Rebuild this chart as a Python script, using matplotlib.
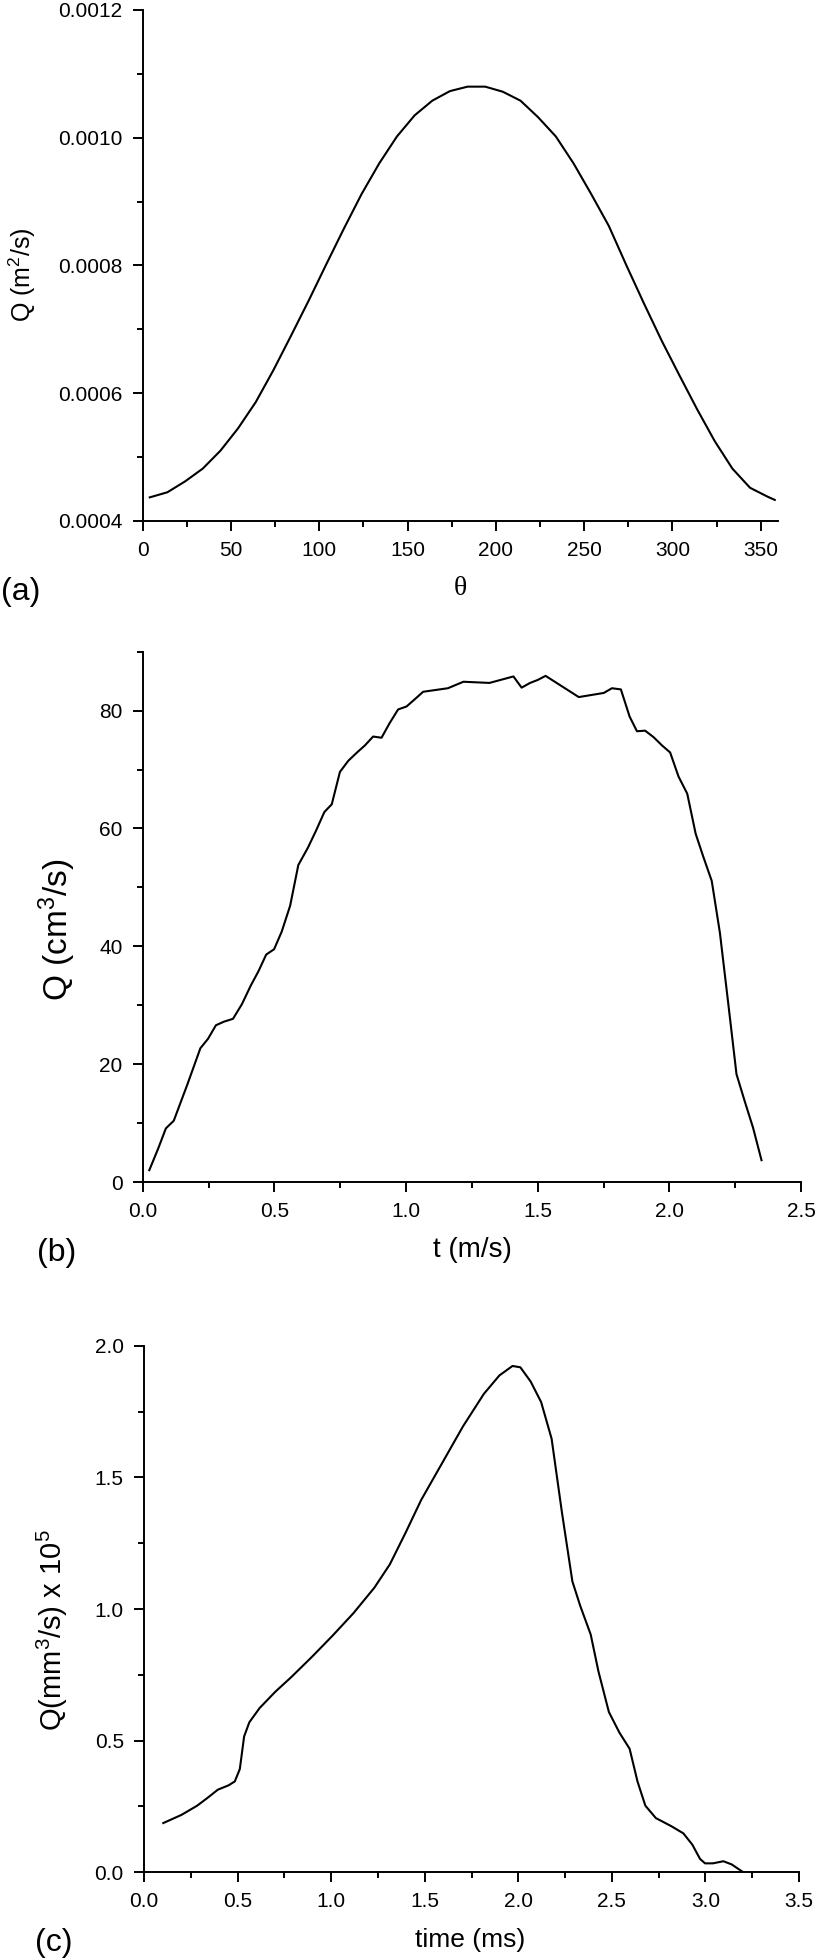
import matplotlib
matplotlib.use('Agg')
import matplotlib.pyplot as plt
from matplotlib.ticker import MultipleLocator, FormatStrFormatter

plt.rcParams['font.family'] = ['Liberation Sans', 'DejaVu Sans']
plt.rcParams['mathtext.fontset'] = 'custom'
plt.rcParams['mathtext.rm'] = 'Liberation Sans'
plt.rcParams['mathtext.it'] = 'Liberation Sans:italic'

# (a) flow rate vs angle
theta = [4, 14, 24, 34, 44, 54, 64, 74, 84, 94, 104, 114, 124, 134, 144, 154,
         164, 174, 184, 194, 204, 214, 224, 234, 244, 254, 264, 274, 284, 294,
         304, 314, 324, 334, 344, 354, 358]
q_a = [0.000437, 0.000445, 0.000462, 0.000482, 0.000510, 0.000545, 0.000586,
       0.000636, 0.000690, 0.000745, 0.000802, 0.000858, 0.000912, 0.000960,
       0.001002, 0.001035, 0.001058, 0.001073, 0.001080, 0.001080, 0.001072,
       0.001058, 0.001032, 0.001002, 0.000960, 0.000912, 0.000862, 0.000800,
       0.000740, 0.000682, 0.000628, 0.000575, 0.000525, 0.000482, 0.000452,
       0.000438, 0.000433]

# (b) flow rate vs t
t_b = [0.025, 0.059, 0.088, 0.118, 0.170, 0.219, 0.248, 0.278, 0.308, 0.343,
       0.377, 0.410, 0.440, 0.469, 0.499, 0.528, 0.560, 0.591, 0.627, 0.658,
       0.690, 0.718, 0.749, 0.781, 0.814, 0.844, 0.875, 0.907, 0.938, 0.970,
       1.002, 1.035, 1.065, 1.159, 1.218, 1.317, 1.408, 1.439, 1.471, 1.500,
       1.530, 1.593, 1.656, 1.751, 1.782, 1.816, 1.849, 1.877, 1.908, 1.940,
       1.972, 2.003, 2.035, 2.068, 2.100, 2.129, 2.161, 2.192, 2.224, 2.255,
       2.287, 2.318, 2.350]
q_b = [2.0, 5.7, 9.1, 10.4, 16.6, 22.7, 24.3, 26.6, 27.2, 27.7,
       30.2, 33.3, 35.8, 38.6, 39.5, 42.5, 46.9, 53.8, 56.7, 59.6,
       62.8, 64.1, 69.6, 71.5, 72.9, 74.1, 75.6, 75.4, 77.9, 80.2,
       80.7, 82.0, 83.2, 83.8, 84.9, 84.7, 85.8, 83.9, 84.7, 85.2,
       85.9, 84.1, 82.3, 83.0, 83.8, 83.6, 79.0, 76.5, 76.6, 75.5,
       74.1, 72.9, 68.8, 65.9, 59.1, 55.2, 51.1, 42.3, 30.2, 18.3,
       13.6, 9.2, 3.7]

# (c) flow rate vs time
t_c = [0.103, 0.200, 0.284, 0.340, 0.395, 0.451, 0.485, 0.512, 0.535, 0.563,
       0.618, 0.702, 0.785, 0.897, 1.008, 1.119, 1.231, 1.314, 1.398, 1.481,
       1.593, 1.704, 1.816, 1.899, 1.969, 2.011, 2.066, 2.122, 2.178, 2.233,
       2.289, 2.331, 2.387, 2.428, 2.484, 2.540, 2.595, 2.637, 2.679, 2.735,
       2.818, 2.882, 2.930, 2.971, 2.998, 3.040, 3.096, 3.140, 3.203]
q_c = [0.187, 0.218, 0.253, 0.283, 0.314, 0.330, 0.345, 0.392, 0.516, 0.570,
       0.624, 0.686, 0.740, 0.818, 0.899, 0.984, 1.081, 1.170, 1.290, 1.414,
       1.554, 1.693, 1.817, 1.887, 1.923, 1.918, 1.864, 1.786, 1.647, 1.368,
       1.105, 1.012, 0.903, 0.764, 0.609, 0.531, 0.469, 0.345, 0.253, 0.206,
       0.175, 0.148, 0.105, 0.051, 0.034, 0.034, 0.042, 0.030, 0.0]

W, H = 816, 1960
fig = plt.figure(figsize=(8.16, 19.6), dpi=100)


def box(l, t, r, b):
    return [l / W, 1 - b / H, (r - l) / W, (b - t) / H]


def style(ax):
    for s in ['top', 'right']:
        ax.spines[s].set_visible(False)
    for s in ['left', 'bottom']:
        ax.spines[s].set_linewidth(1.4)
    ax.tick_params(which='major', direction='out', length=7.5, width=1.4,
                   labelsize=15, pad=7)
    ax.tick_params(which='minor', direction='out', length=4.3, width=1.4)


def ftext(x, y, s, **kw):
    fig.text(x / W, 1 - y / H, s, **kw)


# panel (a)
ax = fig.add_axes(box(142.7, 10, 778.3, 521))
ax.plot(theta, q_a, color='black', lw=1.5)
ax.set_xlim(0, 360)
ax.set_ylim(0.0004, 0.0012)
ax.xaxis.set_major_locator(MultipleLocator(50))
ax.xaxis.set_minor_locator(MultipleLocator(25))
ax.yaxis.set_major_locator(MultipleLocator(0.0002))
ax.yaxis.set_minor_locator(MultipleLocator(0.0001))
ax.yaxis.set_major_formatter(FormatStrFormatter('%.4f'))
style(ax)
ftext(22, 275, 'Q (m$\\mathregular{^2}$/s)', rotation=90, ha='center', va='center', fontsize=18)
ftext(460, 588, '\u03b8', family='Liberation Serif', ha='center', va='center', fontsize=20)
ftext(1, 592, '(a)', ha='left', va='center', fontsize=23)

# panel (b)
ax = fig.add_axes(box(142.7, 651.7, 801, 1182))
ax.plot(t_b, q_b, color='black', lw=1.5)
ax.set_xlim(0, 2.5)
ax.set_ylim(0, 90)
ax.xaxis.set_major_locator(MultipleLocator(0.5))
ax.xaxis.set_minor_locator(MultipleLocator(0.25))
ax.yaxis.set_major_locator(MultipleLocator(20))
ax.yaxis.set_minor_locator(MultipleLocator(10))
ax.xaxis.set_major_formatter(FormatStrFormatter('%.1f'))
style(ax)
ftext(57, 930, 'Q (cm$\\mathregular{^3}$/s)', rotation=90, ha='center', va='center', fontsize=24)
ftext(472, 1250, 't (m/s)', ha='center', va='center', fontsize=20)
ftext(37, 1253, '(b)', ha='left', va='center', fontsize=23)

# panel (c)
ax = fig.add_axes(box(144, 1345.7, 799, 1872.3))
ax.plot(t_c, q_c, color='black', lw=1.5)
ax.set_xlim(0, 3.5)
ax.set_ylim(0, 2.0)
ax.xaxis.set_major_locator(MultipleLocator(0.5))
ax.xaxis.set_minor_locator(MultipleLocator(0.25))
ax.yaxis.set_major_locator(MultipleLocator(0.5))
ax.yaxis.set_minor_locator(MultipleLocator(0.25))
ax.xaxis.set_major_formatter(FormatStrFormatter('%.1f'))
ax.yaxis.set_major_formatter(FormatStrFormatter('%.1f'))
style(ax)
ftext(52, 1630, 'Q(mm$\\mathregular{^3}$/s) x 10$\\mathregular{^5}$', rotation=90,
      ha='center', va='center', fontsize=21)
ftext(470, 1940, 'time (ms)', ha='center', va='center', fontsize=19)
ftext(35, 1943, '(c)', ha='left', va='center', fontsize=23)

fig.savefig('out.png', dpi=100)
